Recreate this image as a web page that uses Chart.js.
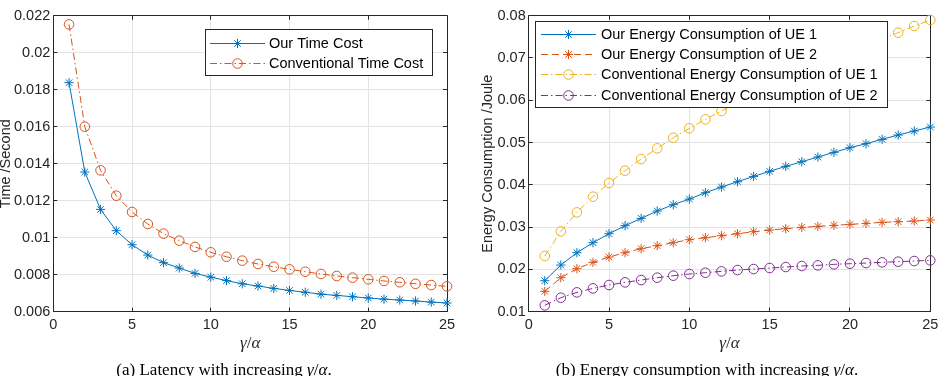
<!DOCTYPE html>
<html>
<head>
<meta charset="utf-8">
<script src="https://cdn.jsdelivr.net/npm/chart.js@4.4.0/dist/chart.umd.min.js"></script>
<style>
  html, body { margin: 0; padding: 0; background: #fff; width: 938px; height: 376px; overflow: hidden; position: relative; }
  canvas { position: absolute; top: 0; }
  #ca { left: 0; }
  #cb { left: 470px; }
  .cap { position: absolute; top: 361px; font: 17px/17px "Liberation Serif", "Times New Roman", serif; color: #000; white-space: nowrap; transform: translateX(-50%); }
</style>
</head>
<body>
<canvas id="ca" width="470" height="376"></canvas>
<canvas id="cb" width="468" height="376"></canvas>
<div class="cap" style="left:224px">(a) Latency with increasing <i>γ</i>/<i>α</i>.</div>
<div class="cap" style="left:707px">(b) Energy consumption with increasing <i>γ</i>/<i>α</i>.</div>
<script>
// ---- data ----
const xs = [1, 2, 3, 4, 5, 6, 7, 8, 9, 10, 11, 12, 13, 14, 15, 16, 17, 18, 19, 20, 21, 22, 23, 24, 25];
const ourTime  = [0.01838, 0.01355, 0.01153, 0.01038, 0.00962, 0.00906, 0.00865, 0.00836, 0.00807, 0.00787, 0.00768, 0.00751, 0.00739,
                  0.00726, 0.00715, 0.00705, 0.00695, 0.00688, 0.00681, 0.00674, 0.00668, 0.00663, 0.00658, 0.00652, 0.00647];
const convTime = [0.02153, 0.01600, 0.01364, 0.01227, 0.01139, 0.01074, 0.01022, 0.00984, 0.00950, 0.00921, 0.00897, 0.00876, 0.00858,
                  0.00843, 0.00829, 0.00816, 0.00804, 0.00793, 0.00784, 0.00775, 0.00766, 0.00759, 0.00751, 0.00744, 0.00737];
const ourUE1   = [0.01733, 0.02104, 0.02395, 0.02632, 0.02845, 0.03034, 0.03207, 0.03381, 0.03531, 0.03664, 0.03814, 0.03948, 0.04074,
                  0.04200, 0.04319, 0.04437, 0.04547, 0.04658, 0.04768, 0.04878, 0.04973, 0.05076, 0.05178, 0.05273, 0.05367];
const ourUE2   = [0.01481, 0.01804, 0.02017, 0.02167, 0.02293, 0.02395, 0.02490, 0.02561, 0.02632, 0.02703, 0.02750, 0.02797, 0.02845,
                  0.02892, 0.02931, 0.02963, 0.02994, 0.03018, 0.03042, 0.03065, 0.03089, 0.03113, 0.03129, 0.03144, 0.03168];
const convUE1  = [0.02317, 0.02900, 0.03349, 0.03720, 0.04043, 0.04335, 0.04610, 0.04863, 0.05115, 0.05336, 0.05548, 0.05746, 0.05943,
                  0.06130, 0.06310, 0.06490, 0.06660, 0.06830, 0.06990, 0.07150, 0.07300, 0.07450, 0.07598, 0.07756, 0.07900];
const convUE2  = [0.01150, 0.01331, 0.01457, 0.01552, 0.01631, 0.01694, 0.01749, 0.01804, 0.01852, 0.01891, 0.01922, 0.01954, 0.01985,
                  0.02009, 0.02033, 0.02057, 0.02080, 0.02096, 0.02120, 0.02135, 0.02151, 0.02167, 0.02183, 0.02198, 0.02214];

const xTicks = [0, 5, 10, 15, 20, 25];
const xTickLabels = ['0', '5', '10', '15', '20', '25'];
const timeTicks = [0.006, 0.008, 0.010, 0.012, 0.014, 0.016, 0.018, 0.020, 0.022];
const timeTickLabels = ['0.006', '0.008', '0.01', '0.012', '0.014', '0.016', '0.018', '0.02', '0.022'];
const energyTicks = [0.01, 0.02, 0.03, 0.04, 0.05, 0.06, 0.07, 0.08];
const energyTickLabels = ['0.01', '0.02', '0.03', '0.04', '0.05', '0.06', '0.07', '0.08'];

// ---- styling ----
const BLUE = '#0072BD', ORANGE = '#D95319', YELLOW = '#EDB120', PURPLE = '#7E2F8E';
const INK = '#262626', GRID = '#e4e4e4';
const SANS = '"Liberation Sans", Arial, Helvetica, sans-serif';
const DASH = [7, 4], DASHDOT = [7, 3, 1.5, 3];

function series(label, data, color, dash, marker) {
  return {
    label, data: xs.map((x, i) => ({ x, y: data[i] })),
    borderColor: color, backgroundColor: 'rgba(0,0,0,0)', borderWidth: 1, borderDash: dash,
    pointStyle: marker, pointRadius: marker === 'star' ? 4.6 : 4.8, pointHoverRadius: 4.8,
    pointBorderWidth: 1, pointBorderColor: color, pointBackgroundColor: 'rgba(0,0,0,0)',
    tension: 0, fill: false, clip: false,
  };
}

const px = (v) => Math.floor(v) + 0.5;

// box + inward tick marks, MATLAB style
const frame = {
  id: 'frame',
  beforeDatasetsDraw(chart) {
    const { ctx, chartArea: a, scales } = chart, tl = 4;
    ctx.save(); ctx.strokeStyle = INK; ctx.lineWidth = 1; ctx.setLineDash([]);
    ctx.beginPath();
    ctx.rect(px(a.left), px(a.top), Math.round(a.right - a.left), Math.round(a.bottom - a.top));
    scales.x.ticks.forEach((t) => {
      const x = px(scales.x.getPixelForValue(t.value));
      ctx.moveTo(x, a.bottom); ctx.lineTo(x, a.bottom - tl);
      ctx.moveTo(x, a.top); ctx.lineTo(x, a.top + tl);
    });
    scales.y.ticks.forEach((t) => {
      const y = px(scales.y.getPixelForValue(t.value));
      ctx.moveTo(a.left, y); ctx.lineTo(a.left + tl, y);
      ctx.moveTo(a.right, y); ctx.lineTo(a.right - tl, y);
    });
    ctx.stroke(); ctx.restore();
  },
};

// boxed legend inside the axes, line sample with marker in the middle
const boxLegend = {
  id: 'boxLegend',
  afterDatasetsDraw(chart, args, o) {
    const { ctx } = chart;
    ctx.save();
    ctx.fillStyle = '#fff'; ctx.strokeStyle = INK; ctx.lineWidth = 1; ctx.setLineDash([]);
    ctx.fillRect(o.x, o.y, o.w, o.h); ctx.strokeRect(px(o.x), px(o.y), Math.round(o.w), Math.round(o.h));
    ctx.font = '14.5px ' + SANS; ctx.textBaseline = 'middle'; ctx.textAlign = 'left';
    chart.data.datasets.forEach((ds, i) => {
      const y = o.rowY[i];
      ctx.strokeStyle = ds.borderColor; ctx.lineWidth = 1;
      ctx.setLineDash(ds.borderDash || []);
      ctx.beginPath(); ctx.moveTo(o.lineX0, px(y)); ctx.lineTo(o.lineX1, px(y)); ctx.stroke();
      ctx.setLineDash([]);
      ctx.fillStyle = 'rgba(0,0,0,0)';
      Chart.helpers.drawPoint(ctx, { pointStyle: ds.pointStyle, radius: ds.pointRadius, rotation: 0, borderWidth: 1 },
        (o.lineX0 + o.lineX1) / 2, px(y));
      ctx.fillStyle = '#000';
      ctx.fillText(ds.label, o.textX, y + 1);
    });
    ctx.restore();
  },
};

// axis titles: rotated y label and the math x label
const axisText = {
  id: 'axisText',
  afterDraw(chart, args, o) {
    const { ctx, chartArea: a } = chart;
    ctx.save();
    ctx.fillStyle = INK; ctx.font = '14.5px ' + SANS; ctx.textAlign = 'center'; ctx.textBaseline = 'alphabetic';
    ctx.translate(o.yX, (a.top + a.bottom) / 2); ctx.rotate(-Math.PI / 2);
    ctx.fillText(o.yText, 0, 0);
    ctx.restore();
    ctx.save();
    ctx.fillStyle = INK; ctx.textBaseline = 'alphabetic'; ctx.textAlign = 'left';
    const it = 'italic 17px "Liberation Serif", "Times New Roman", serif', up = '17px "Liberation Serif", "Times New Roman", serif';
    const parts = [['γ', it], ['/', up], ['α', it]];
    let w = 0; parts.forEach(([s, f]) => { ctx.font = f; w += ctx.measureText(s).width; });
    let x = (a.left + a.right) / 2 - w / 2;
    parts.forEach(([s, f]) => { ctx.font = f; ctx.fillText(s, x, o.xY); x += ctx.measureText(s).width; });
    ctx.restore();
  },
};

function makeChart(id, datasets, box, yTicks, yLabels, legend, titles) {
  return new Chart(document.getElementById(id), {
    type: 'line',
    data: { datasets },
    options: {
      responsive: false, animation: false, devicePixelRatio: 1,
      layout: { padding: { left: 0, top: box.top, right: box.right, bottom: 0 } },
      scales: {
        x: {
          type: 'linear', min: 0, max: 25,
          afterBuildTicks: (s) => { s.ticks = xTicks.map((v) => ({ value: v })); },
          afterFit: (s) => { s.height = box.xh; s.paddingLeft = 0; s.paddingRight = 0; },
          ticks: { callback: (v, i) => xTickLabels[i], color: INK, font: { family: SANS, size: 14.5 }, padding: 5, maxRotation: 0, autoSkip: false },
          grid: { color: GRID, lineWidth: 1, drawTicks: false }, border: { display: false },
        },
        y: {
          type: 'linear', min: yTicks[0], max: yTicks[yTicks.length - 1],
          afterBuildTicks: (s) => { s.ticks = yTicks.map((v) => ({ value: v })); },
          afterFit: (s) => { s.width = box.yw; },
          ticks: { callback: (v, i) => yLabels[i], color: INK, font: { family: SANS, size: 14.5 }, padding: 3, autoSkip: false },
          grid: { color: GRID, lineWidth: 1, drawTicks: false }, border: { display: false },
        },
      },
      plugins: { legend: { display: false }, tooltip: { enabled: false }, boxLegend: legend, axisText: titles },
    },
    plugins: [frame, boxLegend, axisText],
  });
}

makeChart('ca', [
  series('Our Time Cost', ourTime, BLUE, [], 'star'),
  series('Conventional Time Cost', convTime, ORANGE, DASHDOT, 'circle'),
], { top: 15.7, right: 23, xh: 64.3, yw: 53.3 }, timeTicks, timeTickLabels,
  { x: 205, y: 29, w: 227, h: 46, rowY: [43, 63], lineX0: 210, lineX1: 265, textX: 269 },
  { yText: 'Time /Second', yX: 9.5, xY: 348 });

makeChart('cb', [
  series('Our Energy Consumption of UE 1', ourUE1, BLUE, [], 'star'),
  series('Our Energy Consumption of UE 2', ourUE2, ORANGE, DASH, 'star'),
  series('Conventional Energy Consumption of UE 1', convUE1, YELLOW, DASHDOT, 'circle'),
  series('Conventional Energy Consumption of UE 2', convUE2, PURPLE, DASHDOT, 'circle'),
], { top: 15.7, right: 7.7, xh: 64.3, yw: 58.7 }, energyTicks, energyTickLabels,
  { x: 65, y: 21, w: 352, h: 86, rowY: [34, 54, 74, 95], lineX0: 71, lineX1: 126, textX: 131 },
  { yText: 'Energy Consumption /Joule', yX: 22, xY: 348 });
</script>
</body>
</html>
